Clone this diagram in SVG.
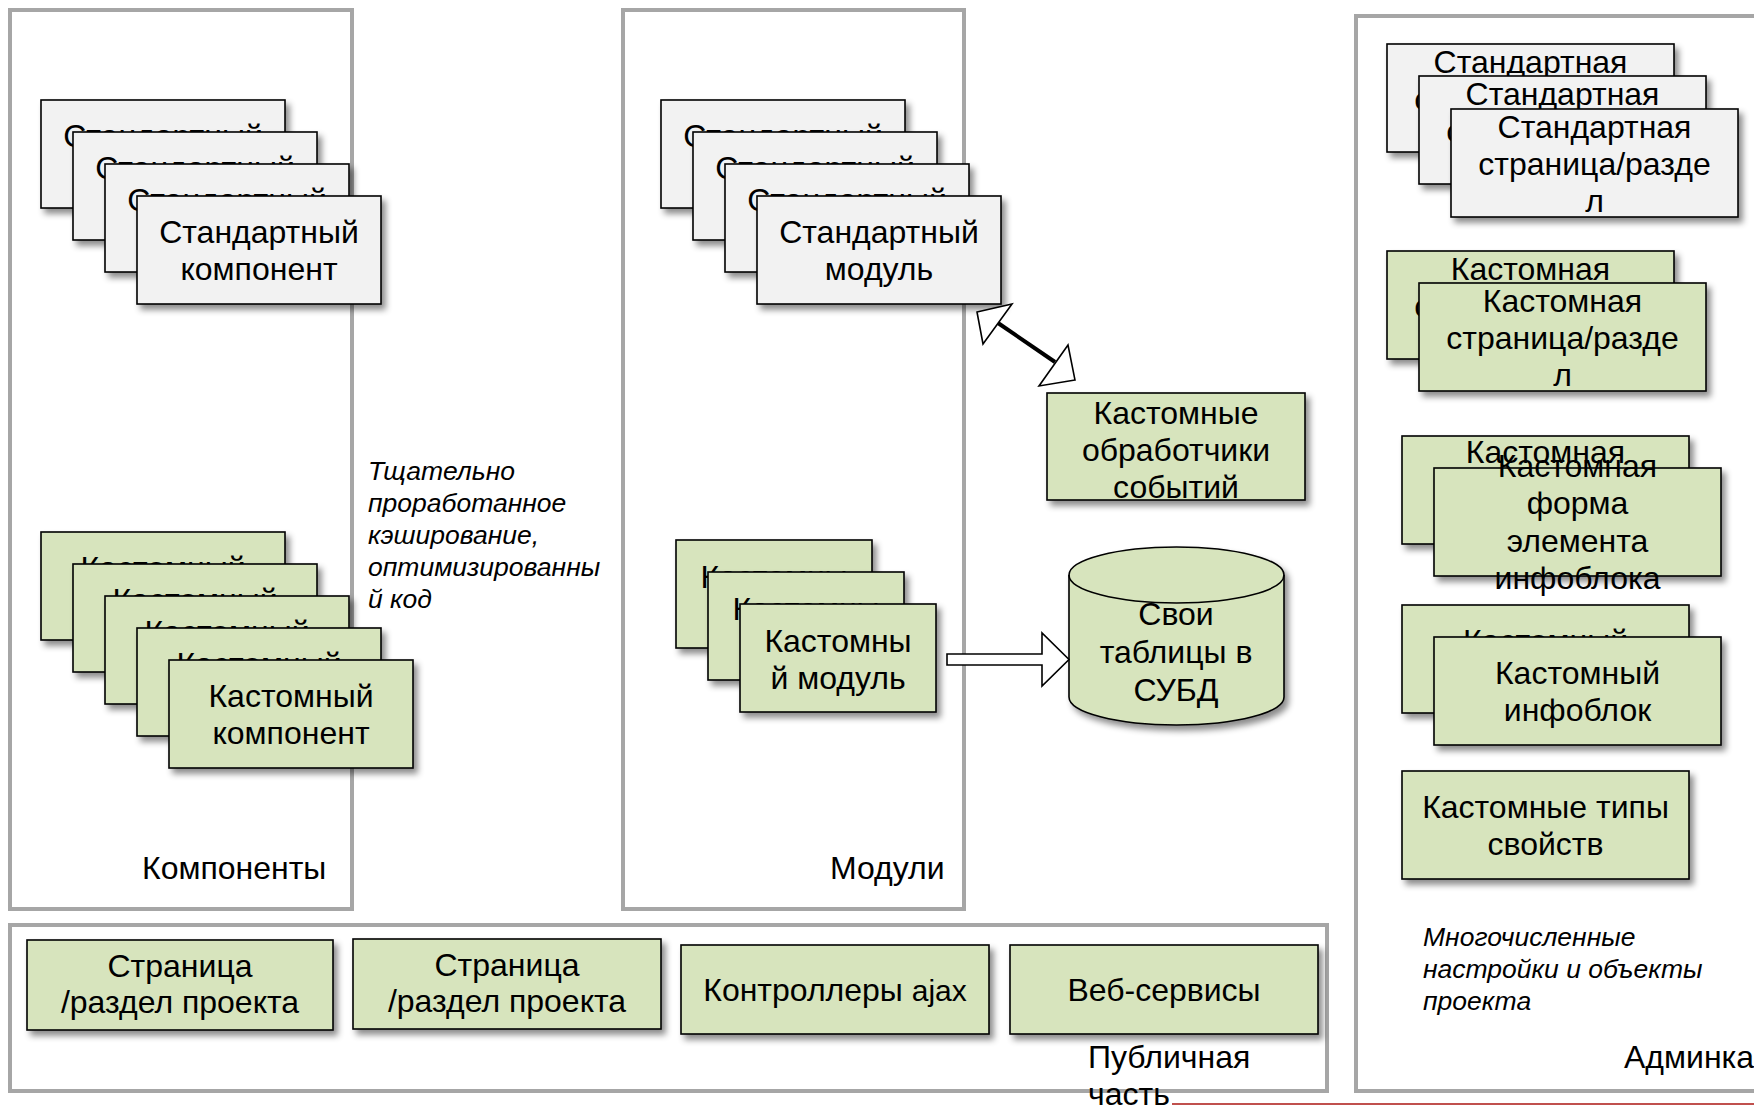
<svg xmlns="http://www.w3.org/2000/svg" width="1754" height="1108" viewBox="0 0 1754 1108">
<defs>
<filter id="sh" x="-10%" y="-10%" width="130%" height="140%">
<feDropShadow dx="4" dy="5" stdDeviation="3" flood-color="#000" flood-opacity="0.45"/>
</filter>
<style>
.cont{fill:none;stroke:#a6a6a6;stroke-width:4}
.grey{fill:#f2f2f2;stroke:#000;stroke-width:1.6;filter:url(#sh)}
.green{fill:#d7e4bd;stroke:#000;stroke-width:1.6;filter:url(#sh)}
text{font-family:"Liberation Sans",Arial,sans-serif;fill:#000}
.t{font-size:32px;text-anchor:middle}
.lbl{font-size:32px}
.it{font-size:26.5px;font-style:italic}
.hollow{fill:#fff;stroke:#000;stroke-width:1.6}
</style>
</defs>
<rect width="1754" height="1108" fill="#fff"/>

<g id="containers">
<rect id="c-components" class="cont" x="10" y="10" width="342" height="899"/>
<rect id="c-modules" class="cont" x="623" y="10" width="341" height="899"/>
<rect id="c-admin" class="cont" x="1356" y="16" width="420" height="1075"/>
<rect id="c-public" class="cont" x="10" y="925" width="1317" height="166"/>
</g>

<g id="labels">
<text class="lbl" x="142" y="879">Компоненты</text>
<text class="lbl" x="830" y="879">Модули</text>
<text class="lbl" x="1624" y="1068">Админка</text>
<text class="lbl" x="1088" y="1068">Публичная</text>
<text class="lbl" x="1088" y="1105">часть</text>
<text class="it" x="368" y="480">Тщательно</text>
<text class="it" x="368" y="512">проработанное</text>
<text class="it" x="368" y="544">кэширование,</text>
<text class="it" x="368" y="576">оптимизированны</text>
<text class="it" x="368" y="608">й код</text>
<text class="it" x="1423" y="946">Многочисленные</text>
<text class="it" x="1423" y="978">настройки и объекты</text>
<text class="it" x="1423" y="1010">проекта</text>
</g>

<!-- Standard components -->
<g id="std-comp-1"><rect class="grey" x="41" y="100" width="244" height="108"/><text class="t" x="163" y="147">Стандартный</text><text class="t" x="163" y="184">компонент</text></g>
<g id="std-comp-2"><rect class="grey" x="73" y="132" width="244" height="108"/><text class="t" x="195" y="179">Стандартный</text><text class="t" x="195" y="216">компонент</text></g>
<g id="std-comp-3"><rect class="grey" x="105" y="164" width="244" height="108"/><text class="t" x="227" y="211">Стандартный</text><text class="t" x="227" y="248">компонент</text></g>
<g id="std-comp-4"><rect class="grey" x="137" y="196" width="244" height="108"/><text class="t" x="259" y="243">Стандартный</text><text class="t" x="259" y="280">компонент</text></g>

<!-- Custom components -->
<g id="cust-comp-1"><rect class="green" x="41" y="532" width="244" height="108"/><text class="t" x="163" y="579">Кастомный</text><text class="t" x="163" y="616">компонент</text></g>
<g id="cust-comp-2"><rect class="green" x="73" y="564" width="244" height="108"/><text class="t" x="195" y="611">Кастомный</text><text class="t" x="195" y="648">компонент</text></g>
<g id="cust-comp-3"><rect class="green" x="105" y="596" width="244" height="108"/><text class="t" x="227" y="643">Кастомный</text><text class="t" x="227" y="680">компонент</text></g>
<g id="cust-comp-4"><rect class="green" x="137" y="628" width="244" height="108"/><text class="t" x="259" y="675">Кастомный</text><text class="t" x="259" y="712">компонент</text></g>
<g id="cust-comp-5"><rect class="green" x="169" y="660" width="244" height="108"/><text class="t" x="291" y="707">Кастомный</text><text class="t" x="291" y="744">компонент</text></g>

<!-- Standard modules -->
<g id="std-mod-1"><rect class="grey" x="661" y="100" width="244" height="108"/><text class="t" x="783" y="147">Стандартный</text><text class="t" x="783" y="184">модуль</text></g>
<g id="std-mod-2"><rect class="grey" x="693" y="132" width="244" height="108"/><text class="t" x="815" y="179">Стандартный</text><text class="t" x="815" y="216">модуль</text></g>
<g id="std-mod-3"><rect class="grey" x="725" y="164" width="244" height="108"/><text class="t" x="847" y="211">Стандартный</text><text class="t" x="847" y="248">модуль</text></g>
<g id="std-mod-4"><rect class="grey" x="757" y="196" width="244" height="108"/><text class="t" x="879" y="243">Стандартный</text><text class="t" x="879" y="280">модуль</text></g>

<!-- Custom modules -->
<g id="cust-mod-1"><rect class="green" x="676" y="540" width="196" height="108"/><text class="t" x="774" y="588">Кастомны</text><text class="t" x="774" y="625">й модуль</text></g>
<g id="cust-mod-2"><rect class="green" x="708" y="572" width="196" height="108"/><text class="t" x="806" y="620">Кастомны</text><text class="t" x="806" y="657">й модуль</text></g>
<g id="cust-mod-3"><rect class="green" x="740" y="604" width="196" height="108"/><text class="t" x="838" y="652">Кастомны</text><text class="t" x="838" y="689">й модуль</text></g>

<!-- Event handlers -->
<g id="handlers"><rect class="green" x="1047" y="393" width="258" height="107"/><text class="t" x="1176" y="424">Кастомные</text><text class="t" x="1176" y="461">обработчики</text><text class="t" x="1176" y="498">событий</text></g>

<!-- Database -->
<g id="db">
<path d="M1069,575 L1069,697 A107.5,28 0 0 0 1284,697 L1284,575 A107.5,28 0 0 0 1069,575 Z" fill="#d7e4bd" stroke="#000" stroke-width="1.6" filter="url(#sh)"/>
<path d="M1069,575 A107.5,28 0 0 0 1284,575" fill="none" stroke="#000" stroke-width="1.6"/>
<text class="t" x="1176" y="625">Свои</text><text class="t" x="1176" y="663">таблицы в</text><text class="t" x="1176" y="701">СУБД</text>
</g>

<!-- Admin: standard pages -->
<g id="std-page-1"><rect class="grey" x="1387" y="44" width="287" height="108"/><text class="t" x="1530.5" y="73">Стандартная</text><text class="t" x="1530.5" y="110">страница/разде</text><text class="t" x="1530.5" y="147">л</text></g>
<g id="std-page-2"><rect class="grey" x="1419" y="76" width="287" height="108"/><text class="t" x="1562.5" y="105">Стандартная</text><text class="t" x="1562.5" y="142">страница/разде</text><text class="t" x="1562.5" y="179">л</text></g>
<g id="std-page-3"><rect class="grey" x="1451" y="109" width="287" height="108"/><text class="t" x="1594.5" y="138">Стандартная</text><text class="t" x="1594.5" y="175">страница/разде</text><text class="t" x="1594.5" y="212">л</text></g>

<!-- Admin: custom pages -->
<g id="cust-page-1"><rect class="green" x="1387" y="251" width="287" height="108"/><text class="t" x="1530.5" y="280">Кастомная</text><text class="t" x="1530.5" y="317">страница/разде</text><text class="t" x="1530.5" y="354">л</text></g>
<g id="cust-page-2"><rect class="green" x="1419" y="283" width="287" height="108"/><text class="t" x="1562.5" y="312">Кастомная</text><text class="t" x="1562.5" y="349">страница/разде</text><text class="t" x="1562.5" y="386">л</text></g>

<!-- Admin: custom forms -->
<g id="cust-form-1"><rect class="green" x="1402" y="436" width="287" height="108"/><text class="t" x="1545.5" y="463">Кастомная</text></g>
<g id="cust-form-2"><rect class="green" x="1434" y="468" width="287" height="108"/><text class="t" x="1577.5" y="477">Кастомная</text><text class="t" x="1577.5" y="514">форма</text><text class="t" x="1577.5" y="552">элемента</text><text class="t" x="1577.5" y="589">инфоблока</text></g>

<!-- Admin: custom infoblocks -->
<g id="cust-ib-1"><rect class="green" x="1402" y="605" width="287" height="108"/><text class="t" x="1545.5" y="652">Кастомный</text><text class="t" x="1545.5" y="689">инфоблок</text></g>
<g id="cust-ib-2"><rect class="green" x="1434" y="637" width="287" height="108"/><text class="t" x="1577.5" y="684">Кастомный</text><text class="t" x="1577.5" y="721">инфоблок</text></g>

<!-- Admin: property types -->
<g id="cust-props"><rect class="green" x="1402" y="771" width="287" height="108"/><text class="t" x="1545.5" y="818">Кастомные типы</text><text class="t" x="1545.5" y="855">свойств</text></g>

<!-- Public part -->
<g id="pub-page-1"><rect class="green" x="27" y="940" width="306" height="90"/><text class="t" x="180" y="977">Страница</text><text class="t" x="180" y="1013">/раздел проекта</text></g>
<g id="pub-page-2"><rect class="green" x="353" y="939" width="308" height="90"/><text class="t" x="507" y="976">Страница</text><text class="t" x="507" y="1012">/раздел проекта</text></g>
<g id="pub-ajax"><rect class="green" x="681" y="945" width="308" height="89"/><text class="t" x="835" y="1001">Контроллеры <tspan font-size="30">ajax</tspan></text></g>
<g id="pub-ws"><rect class="green" x="1010" y="945" width="308" height="89"/><text class="t" x="1164" y="1001">Веб-сервисы</text></g>

<g id="connectors">
<line x1="998" y1="323" x2="1055" y2="362" stroke="#000" stroke-width="4"/>
<polygon class="hollow" points="977,312 1012,304 983,344"/>
<polygon class="hollow" points="1075,380 1039,386 1068,345"/>
<polygon class="hollow" points="947,654 1042,654 1042,633 1069,659.5 1042,686 1042,665 947,665"/>
</g>

<line id="red-line" x1="1172" y1="1104" x2="1754" y2="1104" stroke="#c0504d" stroke-width="2"/>
</svg>
